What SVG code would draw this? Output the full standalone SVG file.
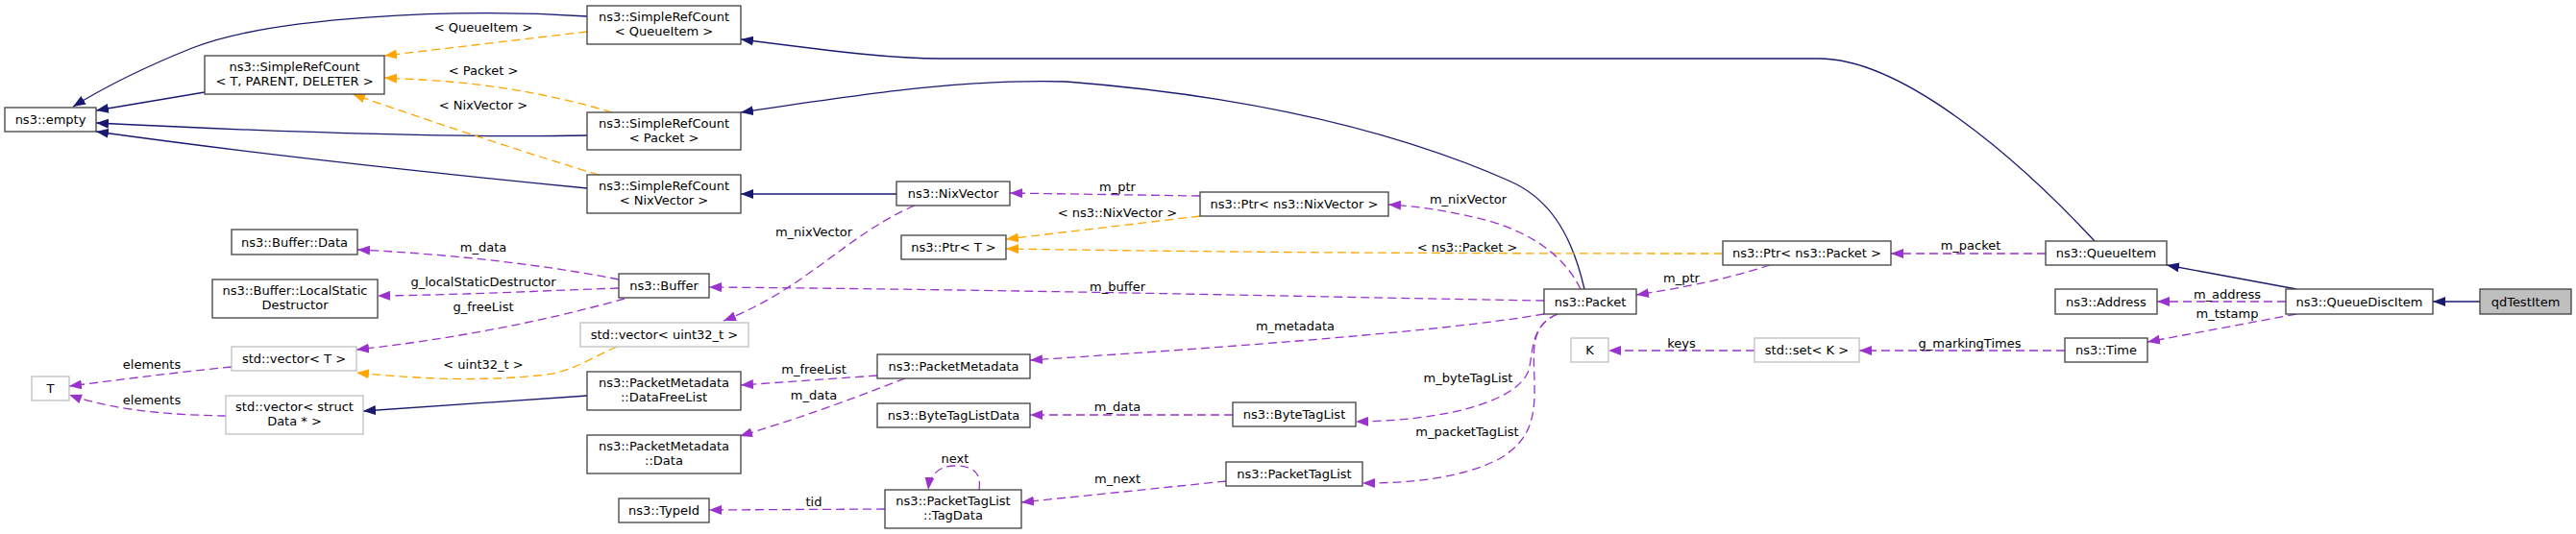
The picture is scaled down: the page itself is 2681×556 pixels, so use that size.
<svg xmlns="http://www.w3.org/2000/svg" width="2681" height="556" viewBox="0 0 2681 556">
<defs>
<style>
text{font-family:"DejaVu Sans","Liberation Sans",sans-serif;font-size:13px;fill:#000;text-anchor:middle}
.n rect{fill:#fff;stroke:#404040;stroke-width:1.3}
.g rect{fill:#fff;stroke:#bfbfbf;stroke-width:1.3}
.f rect{fill:#bfbfbf;stroke:#404040;stroke-width:1.3}
.inh{fill:none;stroke:#191970;stroke-width:1.3;marker-end:url(#ab)}
.use{fill:none;stroke:#9a32cd;stroke-width:1.3;stroke-dasharray:9,5;marker-end:url(#ap)}
.tpl{fill:none;stroke:#ffa500;stroke-width:1.3;stroke-dasharray:9,5;marker-end:url(#ao)}
</style>
<marker id="ab" markerUnits="userSpaceOnUse" markerWidth="14" markerHeight="10" refX="13" refY="5" orient="auto"><path d="M0,0 L13,5 L0,10 z" fill="#191970"/></marker>
<marker id="ap" markerUnits="userSpaceOnUse" markerWidth="14" markerHeight="10" refX="13" refY="5" orient="auto"><path d="M0,0 L13,5 L0,10 z" fill="#9a32cd"/></marker>
<marker id="ao" markerUnits="userSpaceOnUse" markerWidth="14" markerHeight="10" refX="13" refY="5" orient="auto"><path d="M0,0 L13,5 L0,10 z" fill="#ffa500"/></marker>
</defs>
<rect width="2681" height="556" fill="#fff"/>
<g id="edges">
<path class="inh" d="M213,96 L100,115"/>
<path class="inh" d="M611,17 C470,8 280,18 200,50 C150,70 110,90 76,111"/>
<path class="inh" d="M611,141 C520,143 380,142 100,128"/>
<path class="inh" d="M611,196 C540,189 300,165 100,137"/>
<path class="inh" d="M2180,251 C2100,165 1980,61 1893,61 L980,61 C930,61 880,55 771,41"/>
<path class="inh" d="M1649,301 C1635,240 1610,205 1570,188 C1450,135 1300,100 1110,85 C1000,82 900,98 771,117"/>
<path class="inh" d="M933,202 L771,202"/>
<path class="inh" d="M611,412 L378,428"/>
<path class="inh" d="M2390,301 L2255,276"/>
<path class="inh" d="M2581,314 L2532,314"/>
<path class="use" d="M644,291 C600,282 500,266 372,260"/>
<path class="use" d="M644,300 C560,303 480,307 393,308"/>
<path class="use" d="M650,311 C600,325 500,350 371,364"/>
<path class="tpl" d="M642,361 C610,375 595,388 560,391 C500,397 440,395 371,388"/>
<path class="use" d="M241,382 C180,388 120,396 72,402"/>
<path class="use" d="M235,433 C180,432 120,428 72,411"/>
<path class="use" d="M952,214 C880,245 840,300 753,334"/>
<path class="use" d="M1607,313 C1400,310 1100,302 738,299"/>
<path class="use" d="M1607,327 C1500,345 1300,360 1072,375"/>
<path class="use" d="M1621,327 C1590,340 1597,370 1590,388 C1575,420 1500,438 1411,439"/>
<path class="use" d="M1621,327 C1590,340 1597,370 1597,400 C1598,440 1590,460 1560,478 C1520,498 1470,503 1418,503"/>
<path class="use" d="M1283,432 L1072,432"/>
<path class="use" d="M1276,501 L1063,523"/>
<path class="use" d="M1019,510 C1022,490 1010,485 994,485 C978,485 968,493 966,510"/>
<path class="use" d="M921,530 L738,531"/>
<path class="use" d="M913,391 L771,401"/>
<path class="use" d="M942,394 C900,410 850,430 770,454"/>
<path class="use" d="M1249,204 L1051,201"/>
<path class="tpl" d="M1249,225 L1047,249"/>
<path class="tpl" d="M1793,264 C1500,264 1300,263 1047,259"/>
<path class="use" d="M1645,301 C1630,270 1600,245 1550,230 C1510,220 1480,215 1445,213"/>
<path class="use" d="M1842,276 C1800,290 1750,300 1703,307"/>
<path class="use" d="M2129,264 L1968,264"/>
<path class="use" d="M1826,365 L1674,365"/>
<path class="use" d="M2149,365 L1935,365"/>
<path class="use" d="M2379,314 L2245,314"/>
<path class="use" d="M2390,327 L2235,356"/>
<path class="tpl" d="M611,33 L400,58"/>
<path class="tpl" d="M637,117 C580,100 520,88 440,83 L400,81"/>
<path class="tpl" d="M623,182 C550,160 450,127 367,98"/>
<text x="503" y="33">&lt; QueueItem &gt;</text>
<text x="503" y="78">&lt; Packet &gt;</text>
<text x="503" y="114">&lt; NixVector &gt;</text>
<text x="503" y="262">m_data</text>
<text x="503" y="298">g_localStaticDestructor</text>
<text x="503" y="324">g_freeList</text>
<text x="158" y="384">elements</text>
<text x="158" y="421">elements</text>
<text x="503" y="384">&lt; uint32_t &gt;</text>
<text x="847" y="246">m_nixVector</text>
<text x="847" y="389">m_freeList</text>
<text x="847" y="416">m_data</text>
<text x="847" y="527">tid</text>
<text x="1163" y="199">m_ptr</text>
<text x="1163" y="226">&lt; ns3::NixVector &gt;</text>
<text x="1163" y="303">m_buffer</text>
<text x="1348" y="344">m_metadata</text>
<text x="1163" y="428">m_data</text>
<text x="994" y="482">next</text>
<text x="1163" y="503">m_next</text>
<text x="1528" y="212">m_nixVector</text>
<text x="1527" y="262">&lt; ns3::Packet &gt;</text>
<text x="1528" y="398">m_byteTagList</text>
<text x="1527" y="454">m_packetTagList</text>
<text x="1750" y="294">m_ptr</text>
<text x="1750" y="362">keys</text>
<text x="2051" y="260">m_packet</text>
<text x="2050" y="362">g_markingTimes</text>
<text x="2318" y="311">m_address</text>
<text x="2318" y="331">m_tstamp</text>
</g>
<g id="empty" class="n"><rect x="5" y="112" width="95" height="25"/><text x="52.5" y="129">ns3::empty</text></g>
<g id="src_t" class="n"><rect x="213" y="58" width="187" height="40"/><text x="306.5" y="73.5">ns3::SimpleRefCount</text><text x="306.5" y="88.5">&lt; T, PARENT, DELETER &gt;</text></g>
<g id="src_qi" class="n"><rect x="611" y="6" width="160" height="40"/><text x="691" y="21.5">ns3::SimpleRefCount</text><text x="691" y="36.5">&lt; QueueItem &gt;</text></g>
<g id="src_p" class="n"><rect x="611" y="117" width="160" height="39"/><text x="691" y="132.5">ns3::SimpleRefCount</text><text x="691" y="147.5">&lt; Packet &gt;</text></g>
<g id="src_nv" class="n"><rect x="611" y="182" width="160" height="40"/><text x="691" y="197.5">ns3::SimpleRefCount</text><text x="691" y="212.5">&lt; NixVector &gt;</text></g>
<g id="buffer_data" class="n"><rect x="241" y="239" width="131" height="26"/><text x="306.5" y="256.5">ns3::Buffer::Data</text></g>
<g id="lsd" class="n"><rect x="221" y="291" width="172" height="40"/><text x="307" y="306.5">ns3::Buffer::LocalStatic</text><text x="307" y="321.5">Destructor</text></g>
<g id="vec_t" class="g"><rect x="241" y="361" width="130" height="25"/><text x="306" y="378">std::vector&lt; T &gt;</text></g>
<g id="t" class="g"><rect x="33" y="392" width="39" height="25"/><text x="52.5" y="409">T</text></g>
<g id="vec_data" class="g"><rect x="235" y="412" width="143" height="40"/><text x="306.5" y="427.5">std::vector&lt; struct</text><text x="306.5" y="442.5">Data * &gt;</text></g>
<g id="buffer" class="n"><rect x="644" y="285" width="94" height="25"/><text x="691" y="302">ns3::Buffer</text></g>
<g id="vec_u32" class="g"><rect x="604" y="336" width="175" height="25"/><text x="691.5" y="353">std::vector&lt; uint32_t &gt;</text></g>
<g id="dfl" class="n"><rect x="611" y="387" width="160" height="40"/><text x="691" y="402.5">ns3::PacketMetadata</text><text x="691" y="417.5">::DataFreeList</text></g>
<g id="pmdata" class="n"><rect x="611" y="453" width="160" height="40"/><text x="691" y="468.5">ns3::PacketMetadata</text><text x="691" y="483.5">::Data</text></g>
<g id="typeid" class="n"><rect x="644" y="519" width="94" height="25"/><text x="691" y="536">ns3::TypeId</text></g>
<g id="nixvector" class="n"><rect x="933" y="189" width="118" height="25"/><text x="992" y="206">ns3::NixVector</text></g>
<g id="ptr_t" class="n"><rect x="938" y="245" width="109" height="25"/><text x="992.5" y="262">ns3::Ptr&lt; T &gt;</text></g>
<g id="pm" class="n"><rect x="913" y="369" width="159" height="25"/><text x="992.5" y="386">ns3::PacketMetadata</text></g>
<g id="btld" class="n"><rect x="913" y="420" width="159" height="25"/><text x="992.5" y="437">ns3::ByteTagListData</text></g>
<g id="tagdata" class="n"><rect x="921" y="510" width="142" height="40"/><text x="992" y="525.5">ns3::PacketTagList</text><text x="992" y="540.5">::TagData</text></g>
<g id="ptr_nv" class="n"><rect x="1249" y="200" width="196" height="25"/><text x="1347" y="217">ns3::Ptr&lt; ns3::NixVector &gt;</text></g>
<g id="btl" class="n"><rect x="1283" y="419" width="128" height="25"/><text x="1347" y="436">ns3::ByteTagList</text></g>
<g id="ptl" class="n"><rect x="1276" y="481" width="142" height="25"/><text x="1347" y="498">ns3::PacketTagList</text></g>
<g id="packet" class="n"><rect x="1607" y="301" width="96" height="26"/><text x="1655" y="318.5">ns3::Packet</text></g>
<g id="k" class="g"><rect x="1635" y="352" width="39" height="25"/><text x="1654.5" y="369">K</text></g>
<g id="ptr_p" class="n"><rect x="1793" y="251" width="175" height="25"/><text x="1880.5" y="268">ns3::Ptr&lt; ns3::Packet &gt;</text></g>
<g id="set_k" class="g"><rect x="1826" y="352" width="109" height="25"/><text x="1880.5" y="369">std::set&lt; K &gt;</text></g>
<g id="queueitem" class="n"><rect x="2129" y="251" width="126" height="25"/><text x="2192" y="268">ns3::QueueItem</text></g>
<g id="address" class="n"><rect x="2139" y="301" width="106" height="26"/><text x="2192" y="318.5">ns3::Address</text></g>
<g id="time" class="n"><rect x="2149" y="352" width="86" height="25"/><text x="2192" y="369">ns3::Time</text></g>
<g id="qdi" class="n"><rect x="2379" y="301" width="153" height="26"/><text x="2455.5" y="318.5">ns3::QueueDiscItem</text></g>
<g id="qdtest" class="f"><rect x="2581" y="301" width="95" height="26"/><text x="2628.5" y="318.5">qdTestItem</text></g>
</svg>
